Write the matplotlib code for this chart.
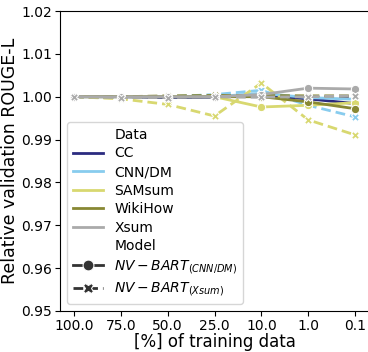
import numpy as np
import pandas as pd
import matplotlib

matplotlib.use('agg')
import matplotlib.pyplot as plt
import seaborn as sns

pct_labels = ["100.0", "75.0", "50.0", "25.0", "10.0", "1.0", "0.1"]
datasets = ["CC", "CNN/DM", "SAMsum", "WikiHow", "Xsum"]
models = [r"$NV-BART_{(CNN/DM)}$", r"$NV-BART_{(Xsum)}$"]

# relative ROUGE-L, model trained on CNN/DM
cnn_cc = [1.0, 1.0, 0.9998, 0.9999, 1.0003, 0.9995, 0.9984]
cnn_cnndm = [1.0, 1.0, 1.0, 1.0, 1.0008, 0.9998, 0.9994]
cnn_samsum = [1.0, 1.0, 1.0, 1.0, 0.9976, 0.9980, 0.9986]
cnn_wikihow = [1.0, 1.0, 1.0, 1.0, 1.0, 0.9988, 0.9972]
cnn_xsum = [1.0, 1.0, 1.0, 1.0, 1.0005, 1.0020, 1.0018]

# relative ROUGE-L, model trained on Xsum
xs_cc = [1.0, 0.9998, 0.9998, 1.0, 1.0, 0.9998, 1.0]
xs_cnndm = [1.0, 1.0, 1.0, 1.0005, 1.0015, 0.9980, 0.9953]
xs_samsum = [1.0, 0.9995, 0.9982, 0.9955, 1.0032, 0.9946, 0.9911]
xs_wikihow = [1.0, 1.0, 1.0002, 1.0003, 1.0003, 1.0002, 1.0002]
xs_xsum = [1.0, 0.9998, 0.9998, 1.0, 0.9999, 1.0, 1.0002]

vals = {
    models[0]: [cnn_cc, cnn_cnndm, cnn_samsum, cnn_wikihow, cnn_xsum],
    models[1]: [xs_cc, xs_cnndm, xs_samsum, xs_wikihow, xs_xsum],
}

rows = []
for m in models:
    for d, series in zip(datasets, vals[m]):
        for p, v in zip(pct_labels, series):
            rows.append({"Data": d, "Model": m, "pct": p, "val": v})
df = pd.DataFrame(rows)

palette = ["#2b2b80", "#88ccee", "#d8d870", "#888833", "#aaaaaa"]

fig = plt.figure(figsize=(3.68, 3.52), dpi=100)
ax = fig.add_axes([60 / 368, 41 / 352, 309 / 368, 300 / 352])

sns.lineplot(data=df, x="pct", y="val", hue="Data", style="Model",
             palette=palette, markers=["o", "X"], dashes=["", (3.5, 1.8)],
             linewidth=2, markersize=6, sort=False, ax=ax)

ax.set_xlim(-0.3, 6.3)
ax.set_ylim(0.95, 1.02)
ax.set_yticks(np.arange(0.95, 1.0201, 0.01))
ax.tick_params(labelsize=10, pad=2)
ax.set_xlabel("[%] of training data", fontsize=12, labelpad=0)
ax.set_ylabel("Relative validation ROUGE-L", fontsize=12.5, labelpad=2)

leg = ax.legend(loc="lower left", fontsize=10, labelspacing=0.33,
                borderaxespad=0.5, handlelength=2.2, markerscale=1.3)

fig.savefig("out.png", dpi=100)
